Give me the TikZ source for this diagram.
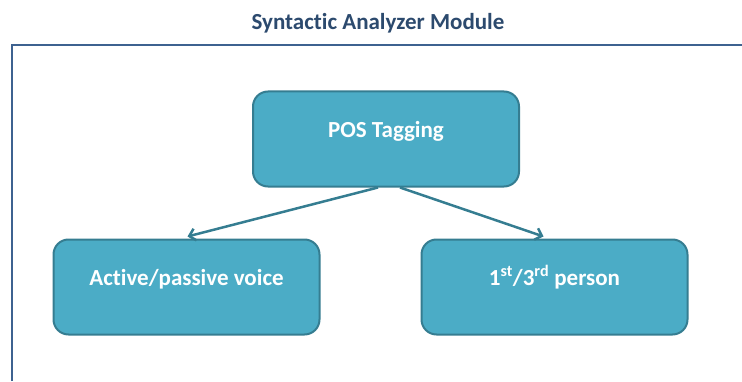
\documentclass[tikz,border=0pt]{standalone}
\usepackage{fontspec}
\setmainfont{Carlito}[Ligatures=NoCommon]
\usepackage{tikz}
\usetikzlibrary{arrows.meta}
\definecolor{boxfill}{HTML}{4BACC6}
\definecolor{boxline}{HTML}{357D91}
\definecolor{framecol}{HTML}{3E6290}
\definecolor{titlecol}{HTML}{2C4A6E}

\begin{document}
\begin{tikzpicture}[x=1pt,y=1pt]
\tikzset{stage/.style={draw=boxline,line width=2pt,fill=boxfill,rounded corners=15pt,
           minimum width=266pt,inner sep=0pt,text height=46pt,text depth=49pt,
           text=white,font=\fontsize{23}{27}\selectfont\bfseries},
         link/.style={draw=boxline,line width=2.5pt,-{Straight Barb[length=6pt,width=12pt]}}}
\useasboundingbox (0,0) rectangle (742,381);
\draw[framecol,line width=2pt] (12,0) -- (12,336) -- (742,336);
\node[text=titlecol,font=\fontsize{23}{27}\selectfont\bfseries] (title) at (378,358) {Syntactic Analyzer Module};
    \node[stage] (pos) at (386,242) {POS Tagging};
    \node[stage] (voice) at (186.5,94) {Active/passive voice};
    \node[stage] (person) at (554.5,94) {1\textsuperscript{st}/3\textsuperscript{rd} person};
    \draw[link] ([xshift=-8pt]pos.south) -- ([xshift=1pt,yshift=2pt]voice.north);
    \draw[link] ([xshift=14pt]pos.south) -- ([xshift=-11pt,yshift=2pt]person.north);
\end{tikzpicture}
\end{document}
